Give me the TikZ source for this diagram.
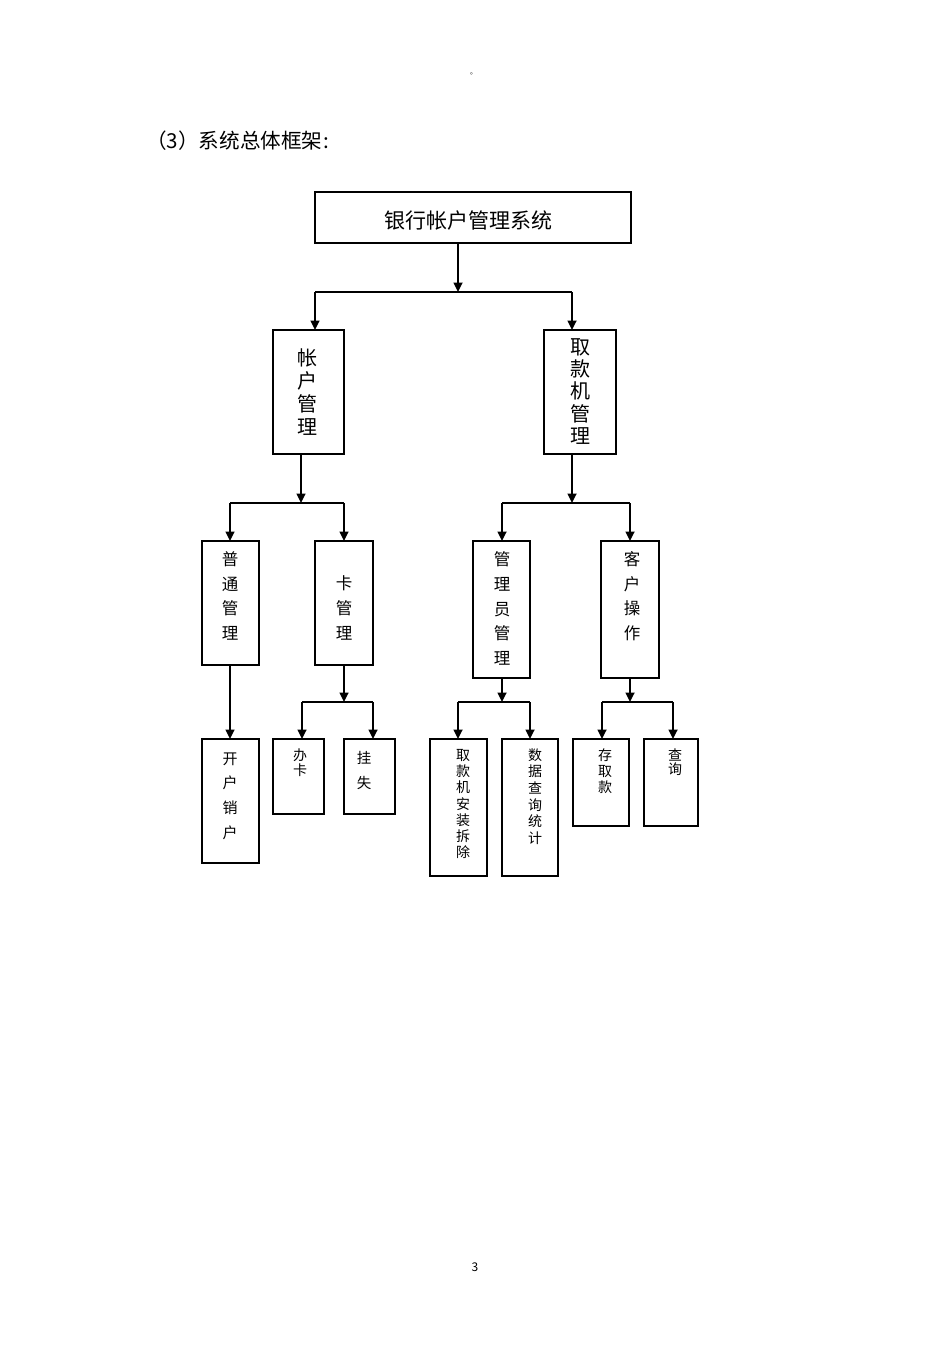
\documentclass[tikz,border=0pt]{standalone}
\usepackage{fontspec}
\newfontfamily\cjk{Noto Sans CJK SC}
\usetikzlibrary{arrows.meta}
\begin{document}
\begin{tikzpicture}[x=1pt,y=-1pt,
  box/.style={draw, line width=1.4pt, anchor=north west, inner sep=0pt, outer sep=0pt},
  conn/.style={line width=1.7pt},
  arr/.style={conn, -{Triangle[length=9.5pt,width=9pt]}},
  vt/.style={align=center, inner sep=0pt},
]
\useasboundingbox (0,0) rectangle (950,1345);

% header mark, title and page number
\node[inner sep=0pt] (dot) at (473.5,73.5) {\cjk\fontsize{7}{7}\selectfont 。};
\node[anchor=west, inner sep=0pt] (title) at (146,141) {\cjk\fontsize{20.6}{24}\selectfont （3）系统总体框架\kern1.5pt:};
\node[inner sep=0pt] (pg) at (475,1267) {\cjk\fontsize{12}{12}\selectfont 3};

% boxes
\node[box, minimum width=316pt, minimum height=51pt] (sys) at (315,192) {};
\node[box, minimum width=71pt, minimum height=124pt] (acct) at (273,330) {};
\node[box, minimum width=72pt, minimum height=124pt] (atm) at (544,330) {};
\node[box, minimum width=57pt, minimum height=124pt] (gen) at (202,541) {};
\node[box, minimum width=58pt, minimum height=124pt] (card) at (315,541) {};
\node[box, minimum width=57pt, minimum height=137pt] (admin) at (473,541) {};
\node[box, minimum width=58pt, minimum height=137pt] (cust) at (601,541) {};
\node[box, minimum width=57pt, minimum height=124pt] (open) at (202,739) {};
\node[box, minimum width=51pt, minimum height=75pt] (issue) at (273,739) {};
\node[box, minimum width=51pt, minimum height=75pt] (lost) at (344,739) {};
\node[box, minimum width=57pt, minimum height=137pt] (inst) at (430,739) {};
\node[box, minimum width=56pt, minimum height=137pt] (stat) at (502,739) {};
\node[box, minimum width=56pt, minimum height=87pt] (dep) at (573,739) {};
\node[box, minimum width=54pt, minimum height=87pt] (query) at (644,739) {};

% texts
\node[inner sep=0pt] (sysT) at (468.5,221) {\cjk\fontsize{21}{24}\selectfont 银行帐户管理系统};
\node[vt, font=\cjk\fontsize{20}{23}\selectfont] (acctT) at (307,392.5) {帐\\户\\管\\理};
\node[vt, font=\cjk\fontsize{20}{22.2}\selectfont] (atmT) at (580,391.4) {取\\款\\机\\管\\理};
\node[vt, font=\cjk\fontsize{16.5}{24.5}\selectfont] (genT) at (230,596) {普\\通\\管\\理};
\node[vt, font=\cjk\fontsize{16.5}{25}\selectfont] (cardT) at (344,608) {卡\\管\\理};
\node[vt, font=\cjk\fontsize{16.5}{24.75}\selectfont] (adminT) at (502,608.5) {管\\理\\员\\管\\理};
\node[vt, font=\cjk\fontsize{16.5}{24.7}\selectfont] (custT) at (632,596) {客\\户\\操\\作};
\node[vt, font=\cjk\fontsize{15}{24.7}\selectfont] (openT) at (230,796) {开\\户\\销\\户};
\node[vt, font=\cjk\fontsize{14}{15}\selectfont] (issueT) at (300,762.5) {办\\卡};
\node[vt, font=\cjk\fontsize{14.5}{25}\selectfont] (lostT) at (364,770) {挂\\失};
\node[vt, font=\cjk\fontsize{14}{16.3}\selectfont] (instT) at (463,804) {取\\款\\机\\安\\装\\拆\\除};
\node[vt, font=\cjk\fontsize{14}{16.6}\selectfont] (statT) at (535,796.5) {数\\据\\查\\询\\统\\计};
\node[vt, font=\cjk\fontsize{14}{16}\selectfont] (depT) at (605,771) {存\\取\\款};
\node[vt, font=\cjk\fontsize{14}{14.5}\selectfont] (queryT) at (675,762) {查\\询};

% junction coordinates
\coordinate (j1) at (458,292);
\coordinate (b1) at (315,292);
\coordinate (b2) at (572,292);
\coordinate (j2) at (301,503);
\coordinate (b3) at (230,503);
\coordinate (b4) at (344,503);
\coordinate (j3) at (572,503);
\coordinate (b5) at (502,503);
\coordinate (b6) at (630,503);
\coordinate (j4) at (344,702);
\coordinate (b7) at (302,702);
\coordinate (b8) at (373,702);
\coordinate (j5) at (502,702);
\coordinate (b9) at (458,702);
\coordinate (b10) at (530,702);
\coordinate (j6) at (630,702);
\coordinate (b11) at (602,702);
\coordinate (b12) at (673,702);

% connectors
\draw[arr] (j1 |- sys.south) -- (j1);
\draw[conn] (b1) -- (b2);
\draw[arr] (b1) -- (b1 |- acct.north);
\draw[arr] (b2) -- (b2 |- atm.north);

\draw[arr] (j2 |- acct.south) -- (j2);
\draw[conn] (b3) -- (b4);
\draw[arr] (b3) -- (b3 |- gen.north);
\draw[arr] (b4) -- (b4 |- card.north);

\draw[arr] (j3 |- atm.south) -- (j3);
\draw[conn] (b5) -- (b6);
\draw[arr] (b5) -- (b5 |- admin.north);
\draw[arr] (b6) -- (b6 |- cust.north);

\draw[arr] (b3 |- gen.south) -- (b3 |- open.north);

\draw[arr] (j4 |- card.south) -- (j4);
\draw[conn] (b7) -- (b8);
\draw[arr] (b7) -- (b7 |- issue.north);
\draw[arr] (b8) -- (b8 |- lost.north);

\draw[arr] (j5 |- admin.south) -- (j5);
\draw[conn] (b9) -- (b10);
\draw[arr] (b9) -- (b9 |- inst.north);
\draw[arr] (b10) -- (b10 |- stat.north);

\draw[arr] (j6 |- cust.south) -- (j6);
\draw[conn] (b11) -- (b12);
\draw[arr] (b11) -- (b11 |- dep.north);
\draw[arr] (b12) -- (b12 |- query.north);
\end{tikzpicture}
\end{document}
